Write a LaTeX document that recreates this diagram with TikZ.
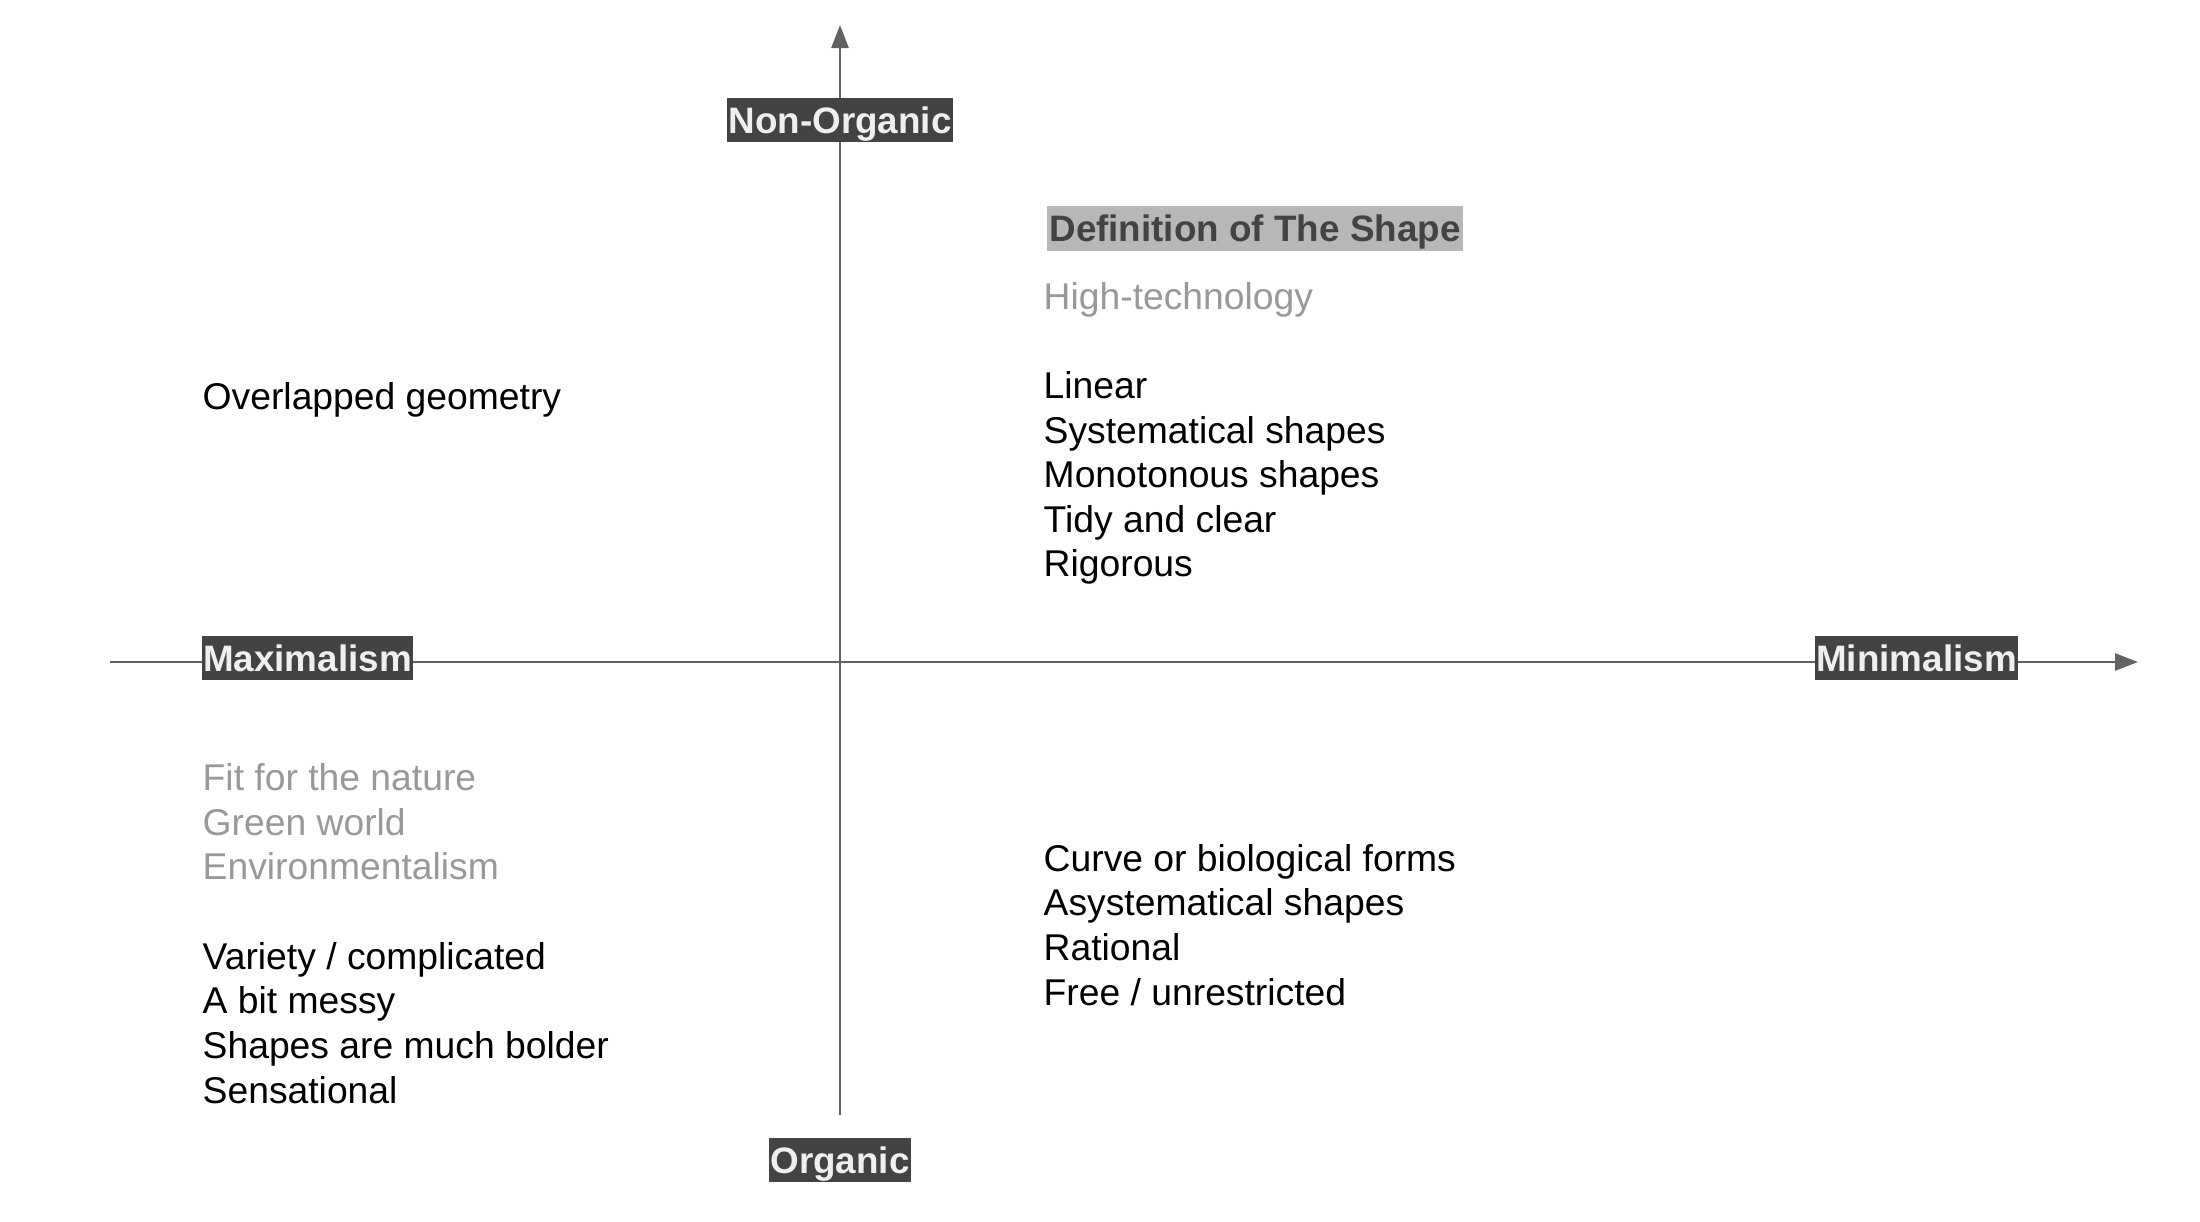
\documentclass[tikz,border=0pt]{standalone}
\usepackage{fontspec}
\setmainfont{Liberation Sans}
\usetikzlibrary{arrows.meta}

\definecolor{axisgray}{HTML}{626262}
\definecolor{labelfill}{HTML}{434343}
\definecolor{labeltext}{HTML}{EFEFEF}
\definecolor{titlefill}{HTML}{B7B7B7}
\definecolor{softgray}{HTML}{999999}

\tikzset{
  axisline/.style={draw=axisgray, line width=0.75pt,
    -{Triangle[length=2.3mm, width=1.7mm]}},
  plainline/.style={draw=axisgray, line width=0.75pt},
  axislabel/.style={fill=labelfill, text=labeltext, inner xsep=0.013cm, inner ysep=0pt,
    text height=0.35cm, text depth=0.09cm,
    font=\fontsize{10.47pt}{12pt}\selectfont\bfseries},
  titlelabel/.style={axislabel, fill=titlefill, text=labelfill, inner xsep=0.025cm,
    text height=0.355cm, text depth=0.095cm},
  % anchored at the baseline of the last line
  itemtext/.style={anchor=base west, inner sep=0pt, align=left,
    font=\fontsize{10.6pt}{12.69pt}\selectfont}
}

\begin{document}
\begin{tikzpicture}[x=0.01cm, y=-0.01cm]
  % page frame
  \useasboundingbox (0,0) rectangle (2200,1222);

  % axis end points
  \coordinate (ytop) at (840,25);
  \coordinate (ybot) at (840,1115);
  \coordinate (xleft) at (110,662);
  \coordinate (xright) at (2138,662);

  % axes
  \draw[plainline] (ybot) -- (840,662);
  \draw[axisline] (840,662) -- (ytop);
  \draw[axisline] (xleft) -- (xright);

  % axis labels
  \node[axislabel] (nonorganic) at (840,120) {Non-Organic};
  \node[axislabel] (organic) at (840,1160) {Organic};
  \node[axislabel] (maximalism) at (307.5,658) {Maximalism};
  \node[axislabel] (minimalism) at (1916.5,658) {Minimalism};

  % title
  \node[titlelabel] (title) at (1255,228.5) {Definition of The Shape};

  % upper right quadrant
  \node[itemtext] (upright) at (1043,577) {%
    \textcolor{softgray}{High-technology}\\
    \strut\\
    Linear\\
    Systematical shapes\\
    Monotonous shapes\\
    Tidy and clear\\
    Rigorous};

  % upper left quadrant
  \node[itemtext] (upleft) at (202,410) {Overlapped geometry};

  % lower left quadrant
  \node[itemtext] (lowleft) at (202,1103) {%
    \textcolor{softgray}{Fit for the nature}\\
    \textcolor{softgray}{Green world}\\
    \textcolor{softgray}{Environmentalism}\\
    \strut\\
    Variety / complicated\\
    A bit messy\\
    Shapes are much bolder\\
    Sensational};

  % lower right quadrant
  \node[itemtext] (lowright) at (1043,1005) {%
    Curve or biological forms\\
    Asystematical shapes\\
    Rational\\
    Free / unrestricted};
\end{tikzpicture}
\end{document}
